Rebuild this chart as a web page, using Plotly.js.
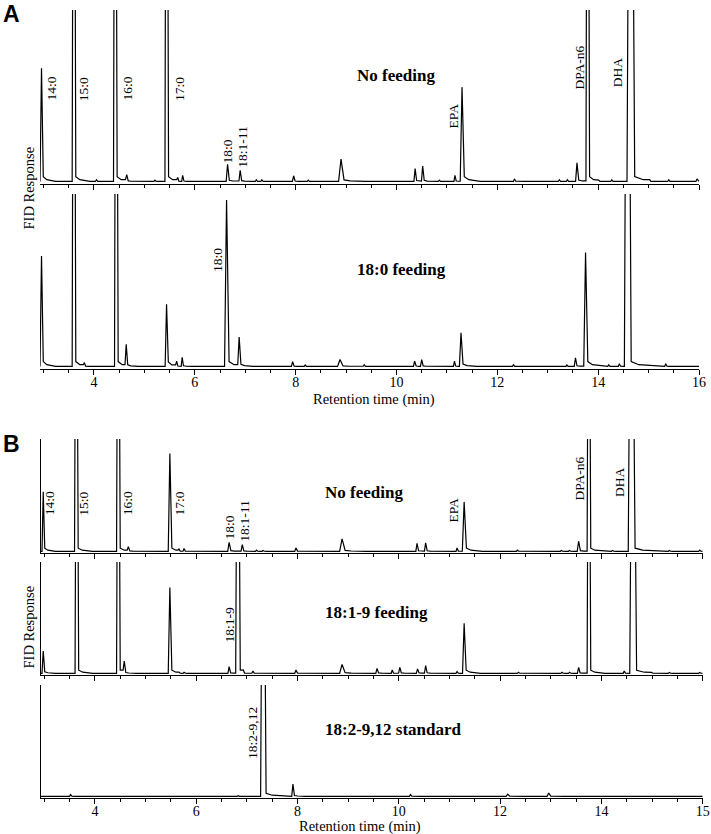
<!DOCTYPE html>
<html>
<head>
<meta charset="utf-8">
<script src="https://cdn.plot.ly/plotly-3.0.1.min.js"></script>
<style>
  html, body { margin: 0; padding: 0; background: #fff; }
  #chart { width: 711px; height: 834px; }
</style>
</head>
<body>
<div id="chart"></div>
<script>
// Peak tables:
// retention time (min), height (% of panel height, >100 = off scale), base width (min)

// A, no feeding
const A1_rt = [2.96, 3.60, 4.05, 4.42, 4.65, 5.21, 5.44, 5.66, 5.76, 6.65, 6.90, 7.22, 7.33, 7.96, 8.25, 8.90,
               10.37, 10.52, 10.85, 11.16, 11.30, 12.34, 13.23, 13.39, 13.58, 13.79, 14.01, 14.27, 14.64, 15.02, 15.40, 15.96];
const A1_h  = [66, 400, 1, 400, 4, 0.8, 400, 2.3, 3.5, 10, 6.5, 1, 1, 3.3, 0.8, 13,
               7.5, 9, 0.8, 3.6, 55, 1.5, 1, 1, 10.8, 400, 0.8, 1, 400, 1, 1, 1.5];
const A1_w  = [0.07, 0.08, 0.05, 0.08, 0.06, 0.05, 0.08, 0.05, 0.05, 0.07, 0.06, 0.05, 0.05, 0.06, 0.05, 0.12,
               0.06, 0.06, 0.05, 0.05, 0.09, 0.05, 0.05, 0.05, 0.07, 0.08, 0.05, 0.05, 0.17, 0.05, 0.05, 0.05];

// A, 18:0 feeding
const A2_rt = [2.96, 3.60, 3.81, 4.44, 4.64, 5.44, 5.64, 5.75, 6.63, 6.88, 7.94, 8.19, 8.88, 9.36,
               10.36, 10.50, 11.15, 11.28, 12.32, 13.38, 13.55, 13.75, 14.21, 14.42, 14.58, 15.34];
const A2_h  = [64, 400, 2.2, 400, 12.8, 36, 3, 5.3, 96.5, 17, 2.7, 0.8, 4, 1,
               3, 4, 3, 19.5, 1, 0.8, 5, 66, 1, 1.5, 400, 1.5];
const A2_w  = [0.07, 0.08, 0.05, 0.08, 0.06, 0.07, 0.05, 0.05, 0.1, 0.07, 0.06, 0.05, 0.12, 0.05,
               0.06, 0.06, 0.05, 0.08, 0.05, 0.05, 0.06, 0.09, 0.05, 0.05, 0.15, 0.05];

// B, no feeding
const B1_rt = [2.98, 3.63, 4.46, 4.66, 5.48, 5.66, 5.76, 6.65, 6.91, 7.19, 7.32, 7.49, 7.97, 8.88,
               10.36, 10.53, 11.15, 11.29, 12.34, 13.21, 13.37, 13.55, 13.75, 14.22, 14.59, 15.34, 15.94];
const B1_h  = [53, 400, 400, 4, 87, 2, 2.5, 8, 6, 1, 0.8, 0.6, 3, 11,
               7, 7.5, 3, 44, 1, 0.8, 0.8, 9, 400, 0.8, 400, 0.8, 1];
const B1_w  = [0.06, 0.08, 0.08, 0.06, 0.08, 0.05, 0.05, 0.07, 0.06, 0.05, 0.05, 0.05, 0.06, 0.12,
               0.06, 0.06, 0.05, 0.09, 0.05, 0.05, 0.05, 0.07, 0.08, 0.05, 0.15, 0.05, 0.05];

// B, 18:1-9 feeding
const B2_rt = [2.98, 3.64, 4.46, 4.58, 5.48, 5.66, 5.76, 6.65, 6.82, 6.93, 7.12, 7.97, 8.88, 9.57, 9.87, 10.02,
               10.37, 10.53, 11.15, 11.29, 12.36, 13.22, 13.37, 13.55, 13.75, 14.45, 14.62, 14.99, 15.34, 15.94];
const B2_h  = [20, 400, 400, 11, 77, 1, 1, 6, 400, 3, 2, 3, 8, 4.5, 3, 5.4,
               4, 7, 1.5, 45, 1, 1, 1, 5.4, 400, 2, 400, 0.8, 0.8, 0.8];
const B2_w  = [0.06, 0.08, 0.08, 0.06, 0.08, 0.05, 0.05, 0.06, 0.1, 0.05, 0.05, 0.06, 0.12, 0.06, 0.05, 0.06,
               0.06, 0.06, 0.05, 0.08, 0.05, 0.05, 0.05, 0.06, 0.08, 0.05, 0.15, 0.05, 0.05, 0.05];

// B, 18:2-9,12 standard
const B3_rt = [3.52, 6.83, 7.32, 7.91, 10.23, 12.15, 12.96];
const B3_h  = [1.5, 0.5, 400, 11, 1.5, 2, 3];
const B3_w  = [0.05, 0.05, 0.12, 0.06, 0.05, 0.08, 0.08];

// axis ticks (the printed figure labels the last tick of panel B as "15")
const tickVals = [4, 6, 8, 10, 12, 14, 16];
const tickTextA = ["4", "6", "8", "10", "12", "14", "16"];
const tickTextB = ["4", "6", "8", "10", "12", "14", "15"];

// peak names and sample names
const peaksA1 = ["14:0", "15:0", "16:0", "17:0", "18:0", "18:1-11", "EPA", "DPA-n6", "DHA"];
const peaksA2 = ["18:0"];
const peaksB1 = ["14:0", "15:0", "16:0", "17:0", "18:0", "18:1-11", "EPA", "DPA-n6", "DHA"];
const peaksB2 = ["18:1-9"];
const peaksB3 = ["18:2-9,12"];
const samples = ["No feeding", "18:0 feeding", "No feeding", "18:1-9 feeding", "18:2-9,12 standard"];

const X0 = 2.93, X1 = 16;
const SERIF = "Liberation Serif";

// turn a peak table into a polyline: sharp rise, apex, short tail
function chromatogram(rt, h, w) {
  const xs = [X0], ys = [0];
  for (let i = 0; i < rt.length; i++) {
    const t = rt[i], hc = Math.min(h[i], 40);
    const stop = i + 1 < rt.length ? rt[i + 1] - 0.4 * w[i + 1] : X1;
    const lastY = ys[ys.length - 1];
    const pts = [
      [t - 0.4 * w[i], lastY],
      [t, h[i]],
      [t + 0.5 * w[i], 0.07 * hc],
      [t + 1.5 * w[i], 0.025 * hc],
      [t + 4 * w[i], 0]
    ];
    pts.forEach((p, k) => {
      if (p[0] <= xs[xs.length - 1]) return;
      if (k >= 2 && p[0] >= stop) return;
      xs.push(p[0]); ys.push(p[1]);
    });
  }
  xs.push(X1); ys.push(0);
  return { x: xs, y: ys };
}

const tables = [
  [A1_rt, A1_h, A1_w],
  [A2_rt, A2_h, A2_w],
  [B1_rt, B1_h, B1_w],
  [B2_rt, B2_h, B2_w],
  [B3_rt, B3_h, B3_w]
];

const data = tables.map((tb, i) => {
  const c = chromatogram(tb[0], tb[1], tb[2]);
  const n = i === 0 ? "" : String(i + 1);
  return {
    x: c.x, y: c.y, type: "scatter", mode: "lines",
    xaxis: "x" + n, yaxis: "y" + n,
    line: { color: "#000", width: 1.2 },
    hoverinfo: "skip", showlegend: false
  };
});

// subplot frames in pixels: [top, bottom]
const H = 834, W = 711;
const frames = [[10, 184], [194, 369], [439, 553], [562, 675], [685, 798]];
const xdomA = [40 / W, 699 / W], xdomB = [40.7 / W, 702.7 / W];

const layout = {
  width: W, height: H,
  margin: { l: 0, r: 0, t: 0, b: 0 },
  paper_bgcolor: "#fff", plot_bgcolor: "rgba(0,0,0,0)",
  font: { family: SERIF, color: "#000" },
  showlegend: false,
  annotations: []
};

frames.forEach((f, i) => {
  const n = i === 0 ? "" : String(i + 1);
  const isB = i >= 2;
  const showLabels = i === 1 || i === 4;
  layout["xaxis" + n] = {
    domain: isB ? xdomB : xdomA, anchor: "y" + n, range: [X0, X1],
    showline: true, linecolor: "#000", linewidth: 1,
    ticks: "outside", ticklen: 5, tickwidth: 1, tickcolor: "#000",
    tickmode: "array", tickvals: tickVals, ticktext: isB ? tickTextB : tickTextA,
    showticklabels: showLabels, ticklabelstandoff: -5,
    tickfont: { family: SERIF, size: 14, color: "#000" },
    minor: { tickmode: "linear", tick0: 0, dtick: 0.5, ticks: "outside", ticklen: 3, tickcolor: "#000", showgrid: false },
    showgrid: false, zeroline: false, fixedrange: true
  };
  layout["yaxis" + n] = {
    domain: [1 - f[1] / H, 1 - f[0] / H], anchor: "x" + n, range: [-1.5, 100],
    showline: isB, linecolor: "#000", linewidth: 1,
    showticklabels: false, ticks: "", showgrid: false, zeroline: false, fixedrange: true
  };
});

// peak label placement (data coordinates of the label centre)
const labelPos = [
  [[3.16, 54], [3.79, 54], [4.67, 54], [5.71, 54], [6.65, 17.2], [6.95, 20.1], [11.13, 38.2], [13.63, 66.2], [14.40, 63.3]],
  [[6.44, 61.7]],
  [[3.11, 42.6], [3.77, 42.6], [4.65, 42.6], [5.66, 42.6], [6.65, 21.2], [6.96, 27], [11.09, 36.3], [13.57, 64.4], [14.36, 61.3]],
  [[6.65, 43]],
  [[7.11, 57.3]]
];
const peakNames = [peaksA1, peaksA2, peaksB1, peaksB2, peaksB3];
peakNames.forEach((names, i) => {
  const n = i === 0 ? "" : String(i + 1);
  names.forEach((txt, k) => {
    layout.annotations.push({
      text: txt, x: labelPos[i][k][0], y: labelPos[i][k][1], xref: "x" + n, yref: "y" + n,
      textangle: -90, showarrow: false, xanchor: "center", yanchor: "middle",
      font: { family: SERIF, size: 13.5, color: "#000" }
    });
  });
});

// sample names
const samplePos = [[9.18, 62], [9.18, 56.5], [8.5, 52.8], [8.5, 54.2], [8.5, 59.6]];
samples.forEach((txt, i) => {
  const n = i === 0 ? "" : String(i + 1);
  layout.annotations.push({
    text: "<b>" + txt + "</b>", x: samplePos[i][0], y: samplePos[i][1], xref: "x" + n, yref: "y" + n,
    showarrow: false, xanchor: "left", yanchor: "middle",
    font: { family: SERIF, size: 17, color: "#000" }
  });
});

// panel letters, axis titles
function paperNote(txt, px, py, font, angle) {
  layout.annotations.push({
    text: txt, x: px / W, y: 1 - py / H, xref: "paper", yref: "paper",
    showarrow: false, xanchor: "center", yanchor: "middle", textangle: angle || 0,
    borderpad: 0, font: font
  });
}
const letterFont = { family: "Liberation Sans", size: 23, color: "#000" };
paperNote("<b>A</b>", 11.5, 13.5, letterFont);
paperNote("<b>B</b>", 11, 443.5, letterFont);
const titleFont = { family: SERIF, size: 14.5, color: "#000" };
paperNote("FID Response", 28, 188.5, titleFont, -90);
paperNote("FID Response", 28, 627.5, titleFont, -90);
paperNote("Retention time (min)", 374, 399.5, titleFont);
paperNote("Retention time (min)", 360, 826.5, titleFont);

Plotly.newPlot("chart", data, layout, { displayModeBar: false, staticPlot: true });
</script>
</body>
</html>
